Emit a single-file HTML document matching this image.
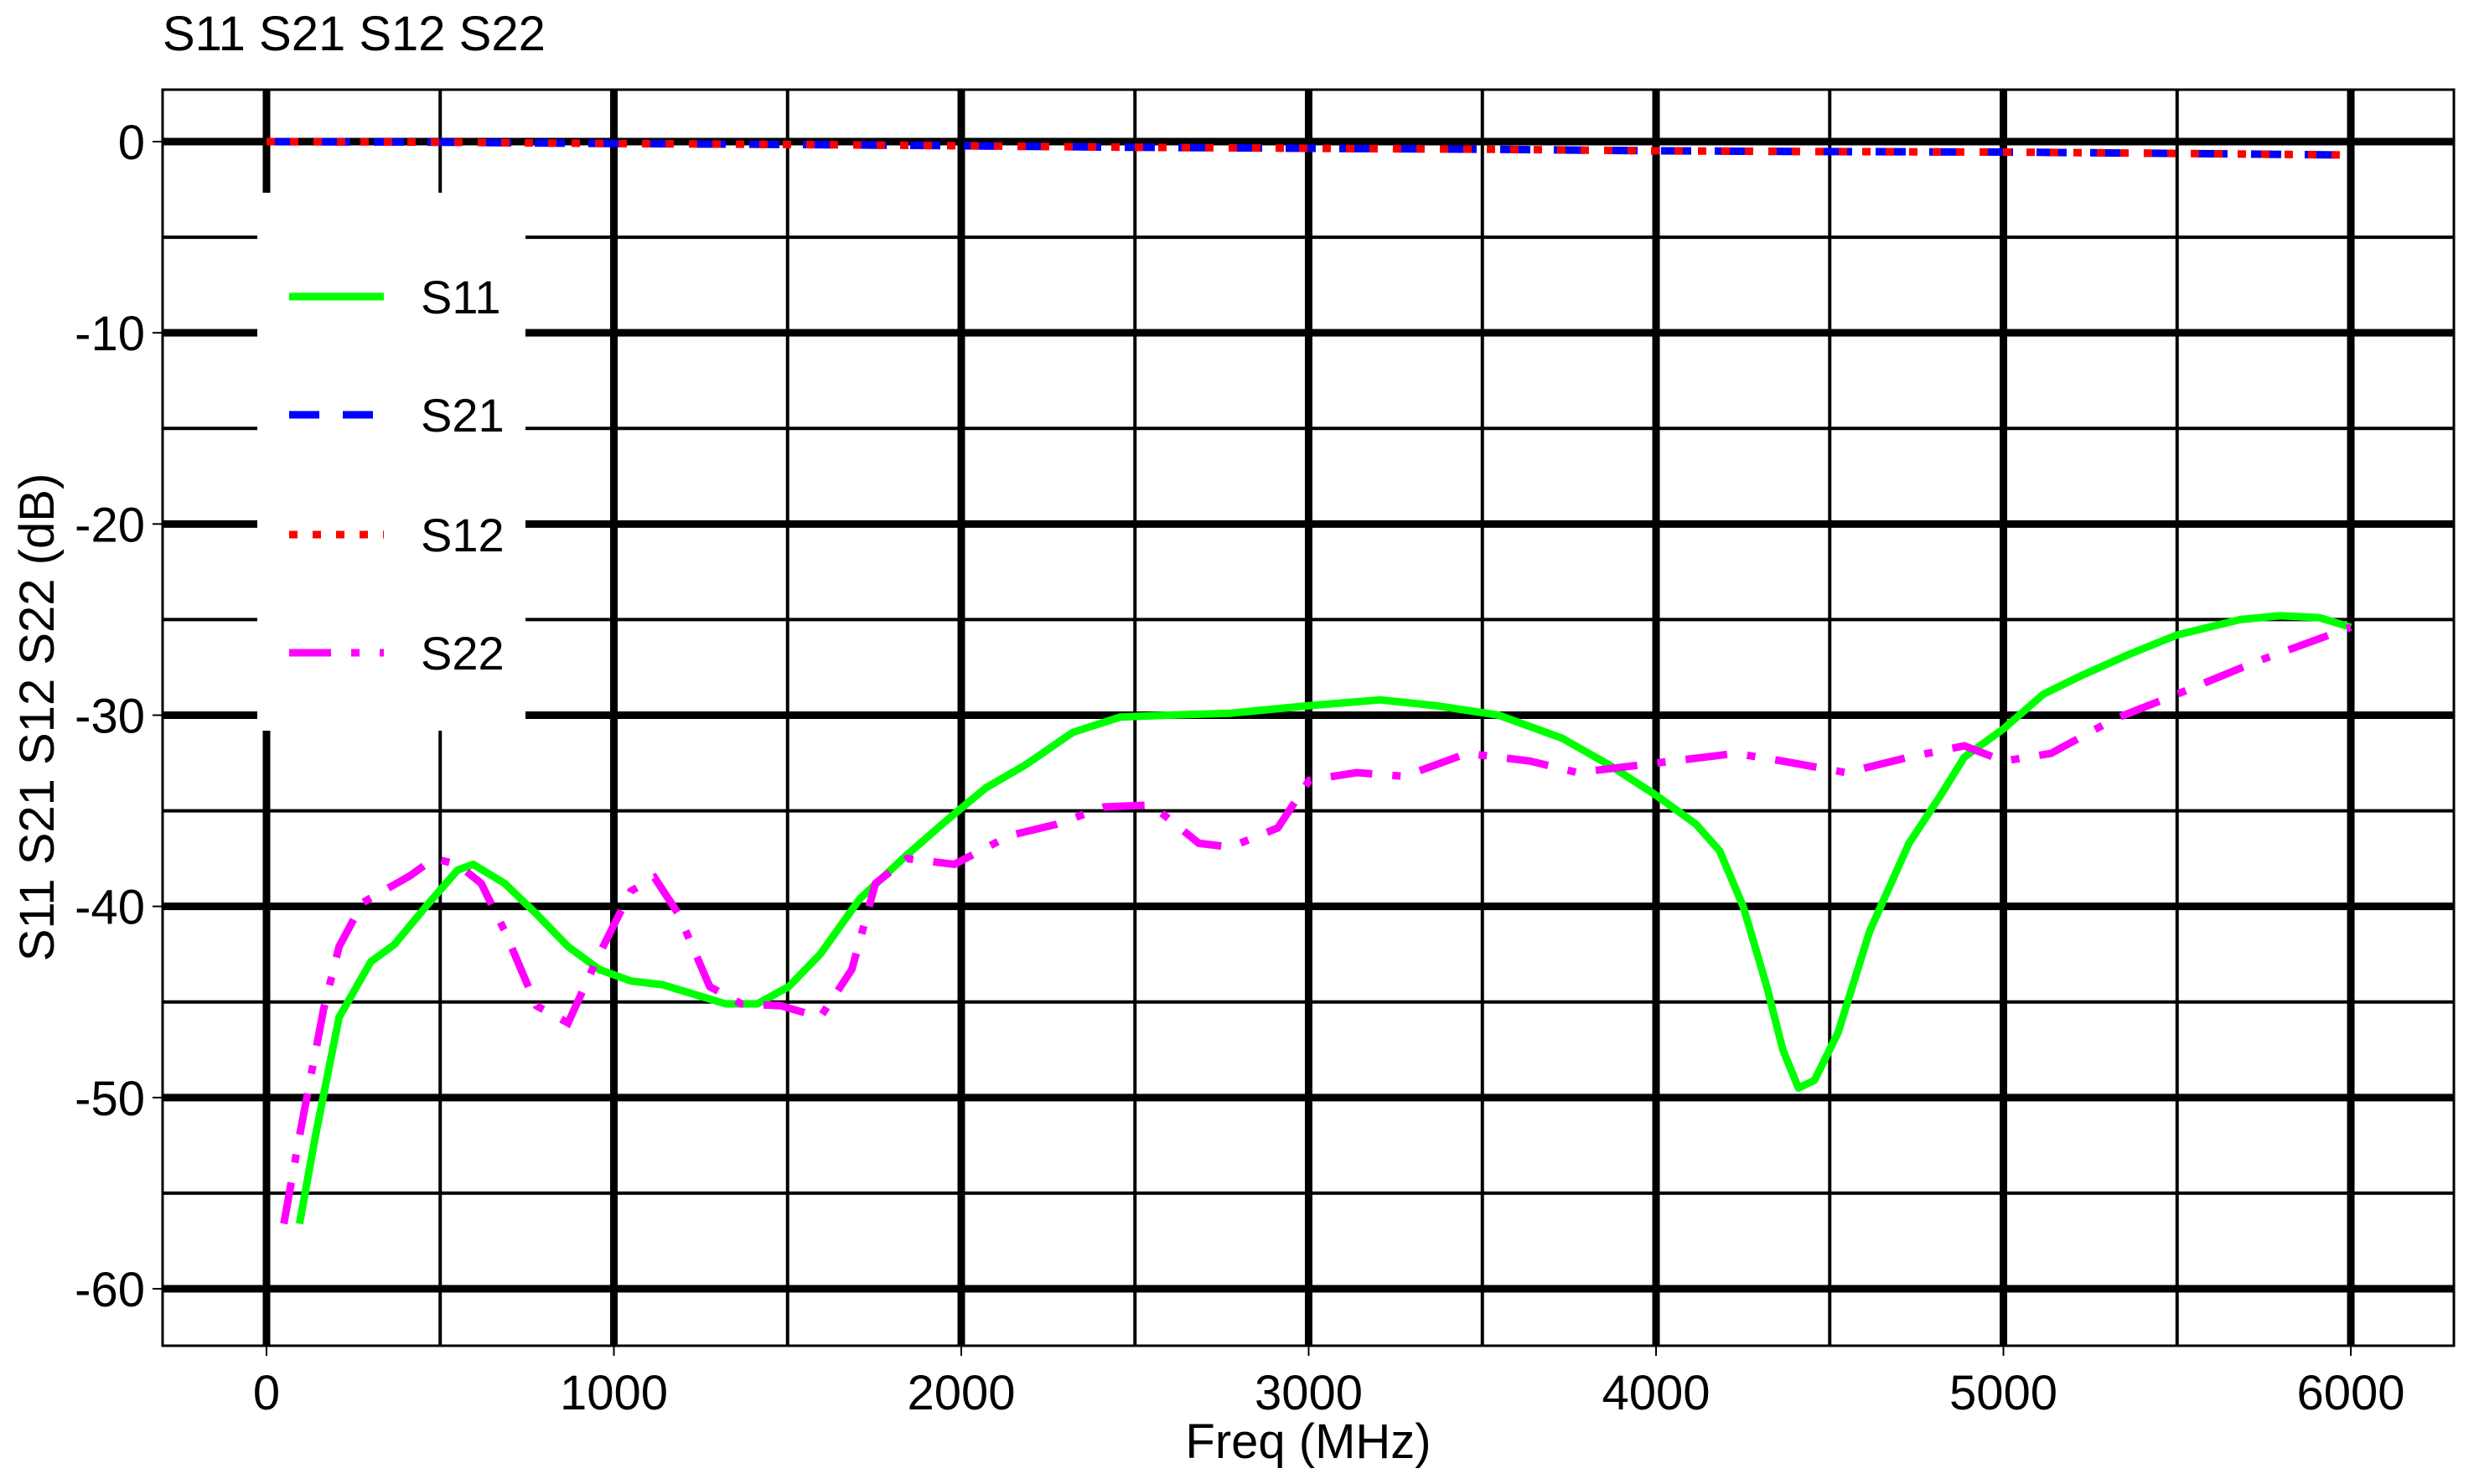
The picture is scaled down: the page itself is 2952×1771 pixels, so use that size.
<!DOCTYPE html>
<html><head><meta charset="utf-8">
<style>
html,body{margin:0;padding:0;background:#fff;}
svg{display:block;font-family:"Liberation Sans",Arial,sans-serif;}
</style></head>
<body>
<svg id="chart" width="2952" height="1771" viewBox="0 0 2952 1771" xmlns="http://www.w3.org/2000/svg">
<rect x="0" y="0" width="2952" height="1771" fill="#fff"/>
<text x="194" y="60" font-size="58">S11 S21 S12 S22</text>
<g id="grid"></g>
<g id="series"></g>
<g id="legend"></g>
<g id="axes"></g>
</svg>
<script>
const xTicks = [0,1000,2000,3000,4000,5000,6000];
const yTicks = [0,-10,-20,-30,-40,-50,-60];
const s11Freq = [95,141,209,300,368,459,550,595,686,777,868,958,1049,1140,1231,1322,1413,1503,1594,1708,1844,1958,2071,2185,2321,2457,2594,2775,3002,3206,3365,3547,3729,3865,4001,4115,4183,4251,4319,4365,4410,4456,4524,4615,4728,4819,4887,5001,5115,5228,5364,5500,5682,5796,5909,6000];
const s11Db = [-56.6,-52,-45.8,-42.9,-42,-40,-38.1,-37.8,-38.8,-40.4,-42.1,-43.3,-43.9,-44.1,-44.6,-45.1,-45.1,-44.2,-42.5,-39.6,-37.3,-35.5,-33.8,-32.6,-30.9,-30.1,-30,-29.9,-29.5,-29.2,-29.5,-30,-31.2,-32.6,-34.2,-35.7,-37.1,-40,-44.2,-47.5,-49.5,-49.1,-46.6,-41.3,-36.7,-34.2,-32.2,-30.7,-28.9,-27.9,-26.8,-25.8,-25,-24.8,-24.9,-25.4];
const s22Freq = [50,95,164,209,277,413,482,550,618,686,777,868,958,1049,1117,1186,1276,1367,1481,1594,1685,1753,1844,1980,2139,2275,2412,2548,2684,2775,2911,3002,3138,3275,3456,3638,3774,4047,4229,4365,4547,4728,4887,5001,5137,5319,5500,5728,6000];
const s22Db = [-56.6,-52,-45.4,-42.1,-39.8,-38.4,-37.5,-37.8,-38.8,-41.3,-45.2,-46.1,-42.5,-39.2,-38.5,-40.4,-44.2,-45.1,-45.2,-45.8,-43.3,-38.8,-37.5,-37.8,-36.3,-35.7,-34.8,-34.7,-36.7,-36.9,-35.9,-33.4,-33,-33.2,-32,-32.4,-33,-32.4,-32,-32.4,-33,-32.2,-31.6,-32.4,-32,-30.2,-28.9,-27.2,-25.4];
const s21Freq = [0,500,1000,1500,2000,2500,3000,3500,4000,4500,5000,5500,6000];
const s21Db = [0,-0.03,-0.1,-0.15,-0.22,-0.3,-0.35,-0.4,-0.48,-0.52,-0.55,-0.62,-0.7];
const s12Freq = [0,500,1000,1500,2000,2500,3000,3500,4000,4500,5000,5500,6000];
const s12Db = [0,-0.03,-0.1,-0.15,-0.22,-0.3,-0.35,-0.4,-0.48,-0.52,-0.55,-0.62,-0.7];

const NS="http://www.w3.org/2000/svg";
const L=194,R=2928,T=107,B=1606;
const X=f=>318+(f/6000)*(2805-318);
const Y=d=>169+(-d/60)*(1538-169);
function mk(tag,attrs,parent){const e=document.createElementNS(NS,tag);for(const k in attrs)e.setAttribute(k,attrs[k]);parent.appendChild(e);return e;}
const grid=document.getElementById('grid'),ser=document.getElementById('series'),leg=document.getElementById('legend'),axes=document.getElementById('axes');

for(let f=500;f<6500;f+=1000){const l=mk('line',{x1:X(f),x2:X(f),y1:T,y2:B,stroke:'#000','stroke-width':4},grid);

}
for(let d=-5;d>=-65;d-=10){if(Y(d)>B)continue;const l=mk('line',{x1:L,x2:R,y1:Y(d),y2:Y(d),stroke:'#000','stroke-width':4},grid);

}
xTicks.forEach(f=>{const l=mk('line',{x1:X(f),x2:X(f),y1:T,y2:B,stroke:'#000','stroke-width':9},grid);

});
yTicks.forEach(d=>{const l=mk('line',{x1:L,x2:R,y1:Y(d),y2:Y(d),stroke:'#000','stroke-width':9},grid);

});

function path(fr,db){return fr.map((f,i)=>(i?'L':'M')+X(f).toFixed(1)+','+Y(db[i]).toFixed(1)).join(' ');}
const p11=mk('path',{d:path(s11Freq,s11Db),fill:'none',stroke:'#00ff00','stroke-width':9,'stroke-linejoin':'round'},ser);


const p22=mk('path',{d:path(s22Freq,s22Db),fill:'none',stroke:'#ff00ff','stroke-width':9,'stroke-dasharray':'50,24,10,24'},ser);


const p21=mk('path',{d:path(s21Freq,s21Db),fill:'none',stroke:'#0000ff','stroke-width':9,'stroke-dasharray':'36,28'},ser);


const p12=mk('path',{d:path(s12Freq,s12Db),fill:'none',stroke:'#ff0000','stroke-width':9,'stroke-dasharray':'10,18'},ser);



const lb=mk('rect',{x:307,y:230,width:320,height:642,fill:'#fff'},leg);


const legItems=[['S11','#00ff00','none',354],['S21','#0000ff','36,28',495],['S12','#ff0000','10,18',638],['S22','#ff00ff','50,24,10,24',779]];
legItems.forEach(it=>{
 const g=mk('g',{},leg);
 
 
 mk('line',{x1:345,x2:458,y1:it[3],y2:it[3],stroke:it[1],'stroke-width':9,'stroke-dasharray':it[2]},g);
 const t=mk('text',{x:502,y:it[3]+20,'font-size':56},g);t.textContent=it[0];
});

const fr=mk('rect',{x:L,y:T,width:R-L,height:B-T,fill:'none',stroke:'#000','stroke-width':3},axes);


xTicks.forEach(f=>{mk('line',{x1:X(f),x2:X(f),y1:B,y2:B+12,stroke:'#000','stroke-width':2},axes);
 const t=mk('text',{x:X(f),y:1682,'font-size':58,'text-anchor':'middle'},axes);t.textContent=f;
 
 });
yTicks.forEach(d=>{mk('line',{x1:L-12,x2:L,y1:Y(d),y2:Y(d),stroke:'#000','stroke-width':2},axes);
 const t=mk('text',{x:173,y:Y(d)+21,'font-size':58,'text-anchor':'end'},axes);t.textContent=d;
 
 });
const xt=mk('text',{x:1561,y:1740,'font-size':58,'text-anchor':'middle'},axes);xt.textContent='Freq (MHz)';


const yt=mk('text',{x:0,y:0,'font-size':58,'text-anchor':'middle',transform:'translate(64,856) rotate(-90)','xml:space':'preserve'},axes);yt.textContent='S11 S21 S12 S22  (dB)';


</script>
</body></html>
